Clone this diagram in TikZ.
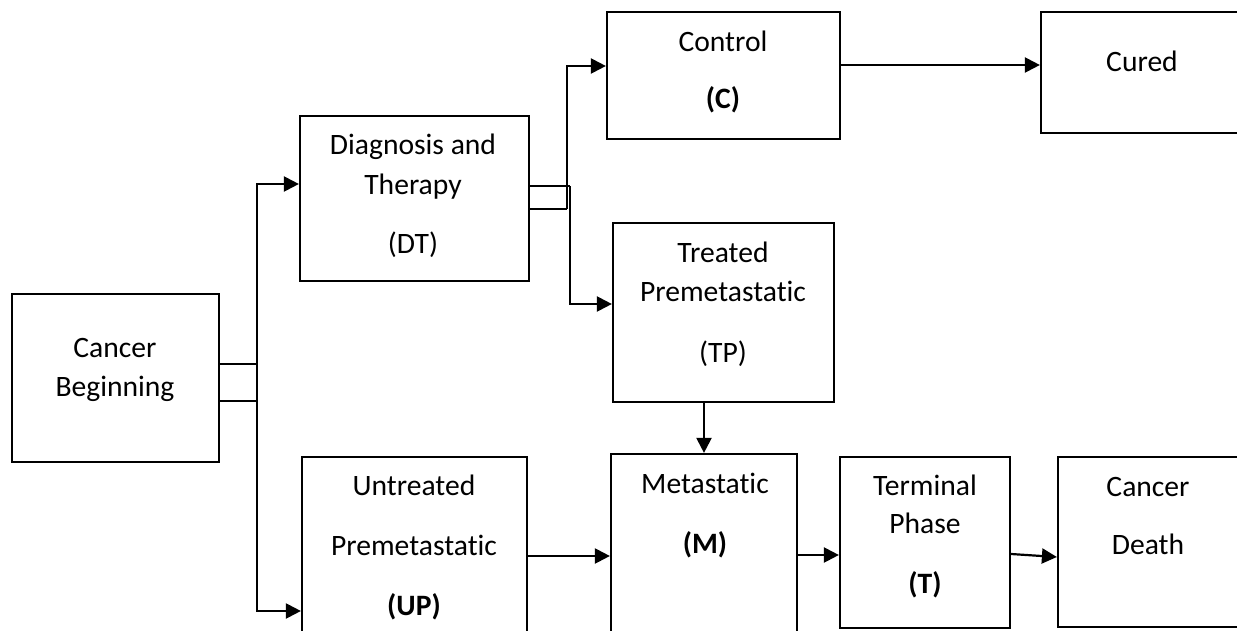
\documentclass[tikz,border=0pt]{standalone}
\usepackage{fontspec}
\setmainfont{Carlito}[Ligatures={NoCommon}]
\usetikzlibrary{arrows.meta,fit}
\begin{document}
\begin{tikzpicture}[x=0.5pt,y=-0.5pt,
  box/.style={draw, line width=1.1pt, inner sep=0pt, rectangle},
  lbl/.style={anchor=base, inner sep=0pt, font=\fontsize{14.8}{17}\selectfont},
  arr/.style={line width=1.1pt, -{Triangle[length=7.5pt,width=7.5pt]}},
  ln/.style={line width=1.1pt}]
\useasboundingbox (0,0) rectangle (1237,631);
\clip (0,0) rectangle (1237,631);
\fill[white] (0,0) rectangle (1237,631);

% boxes
\node[box, fit={(12,294)(219,462)}] (cb) {};
\node[box, fit={(300,116)(529,281)}] (dt) {};
\node[box, fit={(607,12)(840,139)}] (c) {};
\node[box, fit={(1041,12)(1270,133)}] (cured) {};
\node[box, fit={(613,223)(834,402)}] (tp) {};
\node[box, fit={(302,457)(527,680)}] (up) {};
\node[box, fit={(611,454)(797,680)}] (m) {};
\node[box, fit={(840,457)(1010,628)}] (t) {};
\node[box, fit={(1058,457)(1270,627)}] (cd) {};

% texts
\node[lbl] (cb1) at (115,357) {Cancer};
\node[lbl] (cb2) at (115,396) {Beginning};
\node[lbl] (dt1) at (413,155) {Diagnosis and};
\node[lbl] (dt2) at (413,194) {Therapy};
\node[lbl] (dt3) at (413,253) {(DT)};
\node[lbl] (c1) at (723,52) {Control};
\node[lbl] (c2) at (723,109) {\bfseries (C)};
\node[lbl] (cu1) at (1142,72) {Cured};
\node[lbl] (tp1) at (723,262) {Treated};
\node[lbl] (tp2) at (723,301) {Premetastatic};
\node[lbl] (tp3) at (723,362) {(TP)};
\node[lbl] (up1) at (414,495) {Untreated};
\node[lbl] (up2) at (414,555) {Premetastatic};
\node[lbl] (up3) at (414,615) {\bfseries (UP)};
\node[lbl] (m1) at (705,493) {Metastatic};
\node[lbl] (m2) at (705,553) {\bfseries (M)};
\node[lbl] (t1) at (925,495) {Terminal};
\node[lbl] (t2) at (925,533) {Phase};
\node[lbl] (t3) at (925,593) {\bfseries (T)};
\node[lbl] (cd1) at (1148,496) {Cancer};
\node[lbl] (cd2) at (1148,554) {Death};

% junction points
\coordinate (b1) at (257,364);
\coordinate (b2) at (257,401);
\coordinate (b3) at (257,184);
\coordinate (b4) at (257,611);
\coordinate (d1) at (570,186);
\coordinate (d2) at (567,209);
\coordinate (d3) at (567,66);
\coordinate (d4) at (570,304);
\coordinate (e1) at (0,65);
\coordinate (g1) at (0,556);
\coordinate (g2) at (0,555);
\coordinate (h1) at (0,554);
\coordinate (h2) at (0,557);

% connectors from Cancer Beginning
\draw[ln] (cb.east |- b1) -- (b1) -- (b2) -- (cb.east |- b2);
\draw[arr] (b1) -- (b3) -- (dt.west |- b3);
\draw[arr] (b2) -- (b4) -- (up.west |- b4);

% connectors from Diagnosis and Therapy
\draw[ln] (dt.east |- d1) -- (d1);
\draw[ln] (dt.east |- d2) -- (d2);
\draw[arr] (d2) -- (d3) -- (c.west |- d3);
\draw[arr] (d1) -- (d4) -- (tp.west |- d4);

% other connectors
\draw[arr] (c.east |- e1) -- (cured.west |- e1);
\draw[arr] (tp.south -| m.north) -- (m.north);
\draw[arr] (up.east |- g1) -- (m.west |- g1);
\draw[arr] (m.east |- g2) -- (t.west |- g2);
\draw[arr] (t.east |- h1) -- (cd.west |- h2);
\end{tikzpicture}
\end{document}
